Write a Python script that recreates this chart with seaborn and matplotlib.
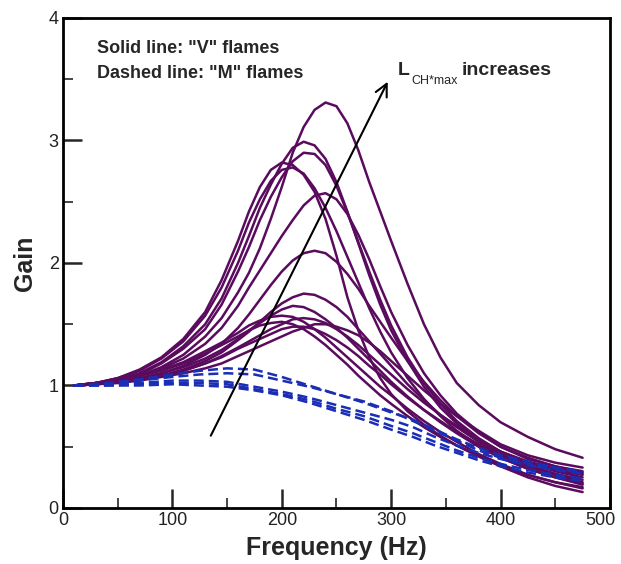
import matplotlib
matplotlib.use("Agg")
import matplotlib.pyplot as plt
import matplotlib.transforms as mtransforms
import seaborn as sns
import pandas as pd

# Frequency grid (Hz) for the "V" flame transfer function gains
freq_v = [10, 30, 50, 70, 90, 110, 130, 145, 160, 170, 180, 190, 200, 210, 220, 230,
          240, 250, 260, 270, 280, 290, 300, 315, 330, 345, 360, 380, 400, 425, 450, 475]

gain_v = {
    "V1": [1.00, 1.01, 1.04, 1.08, 1.15, 1.25, 1.40, 1.55, 1.76, 1.92, 2.12, 2.36, 2.62, 2.90, 3.11, 3.25,
           3.31, 3.28, 3.14, 2.92, 2.66, 2.42, 2.18, 1.83, 1.50, 1.23, 1.02, 0.84, 0.70, 0.58, 0.48, 0.41],
    "V2": [1.00, 1.02, 1.05, 1.10, 1.19, 1.32, 1.50, 1.71, 2.00, 2.22, 2.45, 2.64, 2.81, 2.94, 2.99, 2.96,
           2.85, 2.66, 2.42, 2.16, 1.90, 1.66, 1.45, 1.20, 0.99, 0.82, 0.69, 0.56, 0.46, 0.38, 0.32, 0.28],
    "V3": [1.00, 1.02, 1.05, 1.09, 1.18, 1.30, 1.46, 1.66, 1.93, 2.13, 2.35, 2.54, 2.70, 2.83, 2.90, 2.89,
           2.80, 2.63, 2.41, 2.17, 1.93, 1.70, 1.49, 1.23, 1.02, 0.85, 0.71, 0.57, 0.46, 0.37, 0.31, 0.27],
    "V4": [1.00, 1.02, 1.06, 1.13, 1.23, 1.38, 1.60, 1.86, 2.18, 2.42, 2.62, 2.76, 2.82, 2.80, 2.72, 2.58,
           2.36, 2.06, 1.72, 1.45, 1.23, 1.06, 0.93, 0.79, 0.68, 0.59, 0.51, 0.42, 0.34, 0.25, 0.18, 0.13],
    "V5": [1.00, 1.02, 1.06, 1.12, 1.22, 1.36, 1.57, 1.80, 2.10, 2.33, 2.52, 2.67, 2.76, 2.78, 2.73, 2.61,
           2.45, 2.26, 2.05, 1.84, 1.63, 1.44, 1.27, 1.06, 0.89, 0.75, 0.63, 0.51, 0.41, 0.32, 0.25, 0.20],
    "V6": [1.00, 1.01, 1.04, 1.08, 1.14, 1.22, 1.34, 1.47, 1.65, 1.80, 1.94, 2.08, 2.22, 2.35, 2.47, 2.55,
           2.57, 2.52, 2.40, 2.23, 2.03, 1.81, 1.60, 1.33, 1.10, 0.92, 0.77, 0.62, 0.50, 0.41, 0.34, 0.30],
    "V7": [1.00, 1.01, 1.03, 1.06, 1.10, 1.16, 1.25, 1.34, 1.47, 1.58, 1.70, 1.82, 1.93, 2.02, 2.08, 2.10,
           2.08, 2.01, 1.91, 1.79, 1.65, 1.52, 1.39, 1.20, 1.03, 0.88, 0.75, 0.61, 0.50, 0.40, 0.34, 0.29],
    "V8": [1.00, 1.01, 1.03, 1.05, 1.08, 1.13, 1.20, 1.27, 1.37, 1.44, 1.52, 1.60, 1.67, 1.72, 1.75, 1.74,
           1.70, 1.64, 1.56, 1.46, 1.36, 1.26, 1.16, 1.01, 0.88, 0.76, 0.66, 0.54, 0.44, 0.35, 0.28, 0.23],
    "V9": [1.00, 1.01, 1.03, 1.06, 1.10, 1.15, 1.22, 1.29, 1.38, 1.45, 1.51, 1.57, 1.62, 1.65, 1.64, 1.60,
           1.54, 1.47, 1.39, 1.30, 1.21, 1.12, 1.03, 0.91, 0.80, 0.70, 0.61, 0.50, 0.41, 0.32, 0.25, 0.19],
    "V10": [1.00, 1.02, 1.04, 1.08, 1.13, 1.19, 1.28, 1.35, 1.43, 1.49, 1.53, 1.56, 1.57, 1.56, 1.52, 1.46,
            1.39, 1.31, 1.23, 1.15, 1.07, 0.99, 0.92, 0.81, 0.71, 0.62, 0.54, 0.44, 0.36, 0.27, 0.21, 0.16],
    "V11": [1.00, 1.01, 1.03, 1.05, 1.08, 1.12, 1.18, 1.24, 1.31, 1.36, 1.41, 1.46, 1.50, 1.54, 1.55, 1.54,
            1.51, 1.46, 1.40, 1.33, 1.25, 1.17, 1.09, 0.97, 0.86, 0.76, 0.67, 0.56, 0.46, 0.37, 0.30, 0.25],
    "V12": [1.00, 1.02, 1.04, 1.08, 1.12, 1.18, 1.26, 1.33, 1.40, 1.45, 1.49, 1.51, 1.52, 1.50, 1.46, 1.40,
            1.33, 1.25, 1.17, 1.08, 1.00, 0.92, 0.85, 0.75, 0.66, 0.58, 0.51, 0.43, 0.35, 0.27, 0.21, 0.17],
    "V13": [1.00, 1.01, 1.03, 1.05, 1.08, 1.12, 1.18, 1.23, 1.30, 1.34, 1.38, 1.42, 1.46, 1.48, 1.48, 1.46,
            1.42, 1.37, 1.31, 1.24, 1.16, 1.09, 1.01, 0.90, 0.80, 0.71, 0.62, 0.52, 0.43, 0.34, 0.27, 0.21],
    "V14": [1.00, 1.01, 1.02, 1.04, 1.07, 1.10, 1.14, 1.18, 1.24, 1.28, 1.32, 1.36, 1.40, 1.44, 1.47, 1.50,
            1.50, 1.48, 1.45, 1.41, 1.35, 1.28, 1.20, 1.08, 0.96, 0.85, 0.75, 0.63, 0.52, 0.43, 0.37, 0.33],
}

# Frequency grid (Hz) for the "M" flame gains
freq_m = [10, 40, 70, 100, 125, 150, 175, 200, 225, 250, 275, 300, 320, 340, 360, 380, 400, 425, 450, 475]

gain_m = {
    "M1": [1.00, 1.02, 1.05, 1.09, 1.12, 1.14, 1.13, 1.07, 1.00, 0.93, 0.86, 0.78, 0.72, 0.64, 0.56, 0.49, 0.43, 0.38, 0.33, 0.30],
    "M2": [1.00, 1.01, 1.04, 1.07, 1.09, 1.10, 1.09, 1.04, 0.99, 0.93, 0.87, 0.79, 0.71, 0.63, 0.55, 0.47, 0.41, 0.36, 0.32, 0.29],
    "M3": [1.00, 1.01, 1.02, 1.04, 1.04, 1.03, 0.99, 0.95, 0.90, 0.84, 0.78, 0.72, 0.66, 0.58, 0.51, 0.45, 0.40, 0.35, 0.31, 0.28],
    "M4": [1.00, 1.00, 1.01, 1.02, 1.02, 1.01, 0.97, 0.93, 0.88, 0.81, 0.75, 0.67, 0.61, 0.54, 0.47, 0.41, 0.36, 0.31, 0.27, 0.24],
    "M5": [1.00, 1.00, 1.00, 1.01, 1.00, 0.99, 0.96, 0.92, 0.86, 0.79, 0.72, 0.64, 0.58, 0.51, 0.45, 0.39, 0.34, 0.29, 0.25, 0.22],
}

rows = []
for name, vals in gain_v.items():
    rows += [(f, g, name, "V") for f, g in zip(freq_v, vals)]
for name, vals in gain_m.items():
    rows += [(f, g, name, "M") for f, g in zip(freq_m, vals)]
df = pd.DataFrame(rows, columns=["freq", "gain", "curve", "flame"])

sns.set_theme(style="ticks")
plt.rcParams["font.family"] = ["Liberation Sans", "DejaVu Sans"]

fig = plt.figure(figsize=(6.21, 5.64), dpi=100)
ax = fig.add_axes([0.1014, 0.0993, 0.8808, 0.8688])

purple = "#5a0b5e"
blue = "#1a2db4"

sns.lineplot(data=df[df.flame == "V"], x="freq", y="gain", units="curve",
             estimator=None, color=purple, lw=1.8, ax=ax, legend=False)
sns.lineplot(data=df[df.flame == "M"], x="freq", y="gain", units="curve",
             estimator=None, color=blue, lw=1.8, ax=ax, legend=False)
for line in ax.lines[len(gain_v):]:
    line.set_dashes((4, 2))

ax.set_xlim(0, 500)
ax.set_ylim(0, 4)
ax.set_xticks([0, 100, 200, 300, 400, 500])
ax.set_yticks([0, 1, 2, 3, 4])
ax.set_xticks(range(50, 500, 100), minor=True)
ax.set_yticks([0.5, 1.5, 2.5, 3.5], minor=True)
ax.tick_params(which="major", direction="in", length=14, width=1.8, labelsize=13,
               labelcolor="#222222", pad=3)
ax.tick_params(which="minor", direction="in", length=7, width=1.2)
ax.tick_params(top=False, right=False)
for s in ax.spines.values():
    s.set_linewidth(2.0)
    s.set_color("black")

# keep the last x tick label inside the figure
last = ax.xaxis.get_major_ticks()[-1].label1
last.set_transform(last.get_transform()
                   + mtransforms.ScaledTranslation(-7 / 72, 0, fig.dpi_scale_trans))

ax.set_xlabel("Frequency (Hz)", fontsize=18, fontweight="bold")
ax.set_ylabel("Gain", fontsize=18, fontweight="bold")
ax.xaxis.set_label_coords(0.5, -0.058)
ax.yaxis.set_label_coords(-0.047, 0.5)

ax.text(31, 3.755, 'Solid line: "V" flames', fontsize=13, fontweight="bold", va="center")
ax.text(31, 3.545, 'Dashed line: "M" flames', fontsize=13, fontweight="bold", va="center")

# L with its subscript, followed by "increases" on the same baseline
t_l = ax.text(306, 3.50, "L", fontsize=14, fontweight="bold", va="bottom")
t_s = ax.annotate("CH*max", xy=(1, 0), xycoords=t_l, xytext=(1, 3),
                  textcoords="offset points", fontsize=9, va="top")
ax.annotate("increases", xy=(1, 0), xycoords=(t_s, t_l), xytext=(3, 0),
            textcoords="offset points", fontsize=14, fontweight="bold", va="bottom")

ax.annotate("", xy=(298, 3.50), xytext=(134, 0.57),
            arrowprops=dict(arrowstyle="->", color="black", lw=1.5, mutation_scale=22))

fig.savefig("out.png", dpi=100)
